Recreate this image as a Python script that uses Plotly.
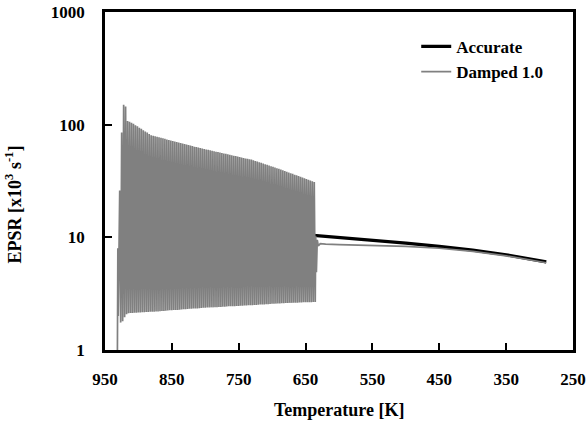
import numpy as np
import plotly.graph_objects as go

# ---- data ----
# Accurate solution (after the oscillating region it is visible)
acc_T = [638, 620, 600, 550, 500, 450, 400, 350, 290]
acc_v = [10.4, 10.2, 10.0, 9.5, 8.9, 8.3, 7.7, 7.0, 6.05]

# Damped 1.0: start-up, oscillation peaks/troughs per cycle, then smooth tail
damped_start_T = [931.5, 930.8, 930.2]
damped_start_v = [0.8, 8.0, 2.0]

osc_T_first, osc_T_last = 928.0, 637.0  # temperature span of the oscillation cycles
osc_high = [26, 85, 150, 145, 108, 106, 104, 102, 99, 97, 94, 92, 89, 87, 85, 82.5,
            80.5, 79.7, 78.8, 78, 77.2, 76.4, 75.6, 74.8, 74, 73.2, 72.4, 71.7, 70.9,
            70.2, 69.5, 68.8, 68, 67.3, 66.6, 65.9, 65.2, 64.5, 63.8, 63.2, 62.6, 62,
            61.4, 60.9, 60.3, 59.8, 59.2, 58.7, 58.1, 57.6, 57.1, 56.6, 56.1, 55.6,
            55.1, 54.6, 54.1, 53.6, 53.1, 52.6, 52.1, 51.6, 51.1, 50.7, 50.2, 49.8,
            49.4, 49,
            48.3, 47.7, 47.1, 46.4, 45.8, 45.2, 44.6, 44, 43.4, 42.8, 42.3, 41.7, 41.1,
            40.6, 40,
            39.4, 38.8, 38.2, 37.7, 37.1, 36.6, 36, 35.5, 35, 34.4, 33.9, 33.4, 32.9,
            32.4, 31.9, 31.4, 31]
osc_low = [1.75, 1.8, 1.95, 2.08,
           2.12, 2.13, 2.13, 2.14, 2.14, 2.15, 2.15, 2.16, 2.16, 2.17, 2.17, 2.18,
           2.18, 2.19, 2.20, 2.20, 2.21, 2.22, 2.22, 2.23, 2.24, 2.25, 2.25, 2.26, 2.27,
           2.27, 2.28, 2.29, 2.30, 2.30, 2.31, 2.32, 2.32, 2.33, 2.34, 2.34, 2.35, 2.36,
           2.37, 2.37, 2.38, 2.38, 2.39, 2.39, 2.40, 2.40, 2.41, 2.41, 2.42, 2.42, 2.43,
           2.44, 2.44, 2.45, 2.45, 2.46, 2.46, 2.47, 2.47, 2.48, 2.48, 2.49, 2.49, 2.50,
           2.51, 2.51, 2.52, 2.53, 2.53, 2.54, 2.55, 2.55, 2.56, 2.57, 2.57, 2.58, 2.59,
           2.59, 2.60,
           2.60, 2.61, 2.61, 2.62, 2.62, 2.63, 2.63, 2.63, 2.64, 2.64, 2.65, 2.65, 2.65,
           2.66, 2.66, 2.67, 2.67]

damped_tail_T = [634.8, 633.8, 632.5, 631, 628, 620, 600, 550, 500, 450, 400, 350, 290]
damped_tail_v = [10.2, 4.9, 9.5, 8.4, 8.8, 8.7, 8.6, 8.5, 8.3, 8.0, 7.5, 6.85, 5.95]

x_ticks = [950, 850, 750, 650, 550, 450, 350, 250]
y_ticks = [1, 10, 100, 1000]

# ---- build damped series ----
n = len(osc_high)
cyc_T = np.linspace(osc_T_first, osc_T_last, n)
half = (osc_T_first - osc_T_last) / (n - 1) / 2.0
dT, dV = list(damped_start_T), list(damped_start_v)
for t, hi, lo in zip(cyc_T, osc_high, osc_low):
    dT += [t, t - half]
    dV += [hi, lo]
dT += damped_tail_T
dV += damped_tail_v

font_family = "Liberation Serif"

fig = go.Figure()
fig.add_trace(go.Scatter(x=acc_T, y=acc_v, mode="lines", name="<b>Accurate</b>",
                         line=dict(color="black", width=3.2)))
fig.add_trace(go.Scatter(x=dT, y=dV, mode="lines", name="<b>Damped 1.0</b>",
                         line=dict(color="#808080", width=1.7)))

axis_common = dict(showgrid=False, zeroline=False, showline=True, linecolor="black",
                   linewidth=2.5, mirror=True, ticks="inside", ticklen=7, tickwidth=2,
                   tickcolor="black", automargin=False, ticklabeloverflow="allow",
                   tickfont=dict(family=font_family, size=17, color="black", weight="bold"))

fig.update_xaxes(range=[950, 250], tickvals=x_ticks, ticktext=[f"<b>{v}</b>" for v in x_ticks],
                 ticklabelstandoff=12, **axis_common)
fig.update_yaxes(type="log", range=[0, 3], tickvals=y_ticks,
                 ticktext=[f"<b>{v}</b>" for v in y_ticks],
                 ticklabelstandoff=14, **axis_common)

fig.update_layout(
    width=588, height=421,
    margin=dict(l=105, r=15, t=12, b=71, autoexpand=False),
    plot_bgcolor="white", paper_bgcolor="white",
    showlegend=True,
    legend=dict(x=0.665, y=0.95, xanchor="left", yanchor="top",
                bgcolor="rgba(0,0,0,0)",
                font=dict(family=font_family, size=17, color="black"),
                tracegroupgap=0),
    annotations=[
        dict(text="<b>Temperature [K]</b>", xref="paper", yref="paper",
             x=0.5, y=-0.177, xanchor="center", yanchor="middle", showarrow=False,
             font=dict(family=font_family, size=18, color="black")),
        dict(text="<b>EPSR [x10<sup>3</sup> s<sup>-1</sup>]</b>", xref="paper", yref="paper",
             x=-0.195, y=0.43, xanchor="center", yanchor="middle", showarrow=False,
             textangle=-90, font=dict(family=font_family, size=18, color="black")),
    ],
)

# remove the default 8px page margin so the figure fills the window exactly
post = ("document.body.style.margin='0';document.body.style.overflow='hidden';"
        "document.documentElement.style.overflow='hidden';")
fig.write_html("out.html", post_script=post, config={"displayModeBar": False})
